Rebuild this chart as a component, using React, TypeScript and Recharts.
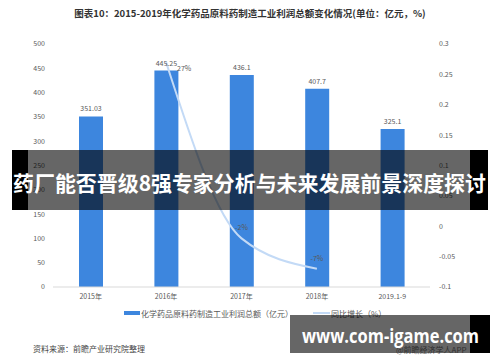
import React from 'react';
import { ComposedChart, Bar, Line, XAxis, YAxis, LabelList } from 'recharts';

// 年份 / 类别
const categories = ['2015年', '2016年', '2017年', '2018年', '2019.1-9'];
// 利润总额（亿元）
const profit = [351.03, 445.25, 436.1, 407.7, 325.1];
// 同比增长
const growth: (number | null)[] = [null, 0.27, -0.02, -0.07, null];
const growthLabels = ['', '27%', '-2%', '-7%', ''];

const leftTicks = [0, 50, 100, 150, 200, 250, 300, 350, 400, 450, 500];
const rightTicks = [-0.1, -0.05, 0, 0.05, 0.1, 0.15, 0.2, 0.25, 0.3];

const barName = '化学药品原料药制造工业利润总额（亿元）';
const lineName = '同比增长（%）';

const BAR_COLOR = '#3d86de';
const LINE_COLOR = '#c3daf6';
const FONT = "'Noto Sans CJK SC', 'Liberation Sans', sans-serif";

const data = categories.map((c, i) => ({
    name: c,
    profit: profit[i],
    growth: growth[i],
}));

const GrowthLabel = (props: any) => {
    const { x, y, index } = props;
    const text = growthLabels[index];
    if (!text) return null;
    // 第一个点的标签放右边，其余放上方
    if (index === 1) {
        return <text x={x + 11} y={y + 9} fontSize={7} fill="#595959" fontFamily={FONT}>{text}</text>;
    }
    return <text x={x} y={y - 8} fontSize={7} fill="#595959" textAnchor="middle" fontFamily={FONT}>{text}</text>;
};

const App: React.FC = () => {
    return (
        <div style={{ position: 'absolute', left: 0, top: 0, width: 500, height: 362, background: '#fff', fontFamily: FONT }}>
            <div style={{ position: 'absolute', top: 6, left: 0, width: 500, textAlign: 'center', fontSize: 9.5, fontWeight: 'bold', color: '#333' }}>
                图表10：2015-2019年化学药品原料药制造工业利润总额变化情况(单位：亿元，%)
            </div>
            <ComposedChart
                width={500}
                height={362}
                data={data}
                margin={{ top: 44, right: 0, bottom: 61, left: 0 }}
                barCategoryGap={51}
            >
                <XAxis
                    dataKey="name"
                    height={14}
                    tickSize={0}
                    tickMargin={7}
                    tick={{ fontSize: 7, fill: '#595959', fontFamily: FONT }}
                    axisLine={{ stroke: '#d9d9d9' }}
                />
                <YAxis
                    yAxisId="left"
                    width={53}
                    domain={[0, 500]}
                    ticks={leftTicks}
                    tickSize={0}
                    tickMargin={8}
                    axisLine={false}
                    tick={{ fontSize: 7, fill: '#595959', fontFamily: FONT }}
                />
                <YAxis
                    yAxisId="right"
                    orientation="right"
                    width={70}
                    domain={[-0.1, 0.3]}
                    ticks={rightTicks}
                    tickSize={0}
                    tickMargin={9}
                    axisLine={false}
                    tick={{ fontSize: 7, fill: '#595959', fontFamily: FONT }}
                />
                <Bar yAxisId="left" dataKey="profit" name={barName} fill={BAR_COLOR} barSize={24} isAnimationActive={false}>
                    <LabelList dataKey="profit" position="top" offset={5} style={{ fontSize: 7, fill: '#595959', fontFamily: FONT }} />
                </Bar>
                <Line
                    yAxisId="right"
                    dataKey="growth"
                    name={lineName}
                    type="monotone"
                    stroke={LINE_COLOR}
                    strokeWidth={2}
                    dot={false}
                    isAnimationActive={false}
                >
                    <LabelList dataKey="growth" content={GrowthLabel} />
                </Line>
            </ComposedChart>

            {/* 图例 */}
            <div style={{ position: 'absolute', top: 307, left: 124, height: 12, display: 'flex', alignItems: 'center', fontSize: 8, color: '#595959', whiteSpace: 'nowrap' }}>
                <span style={{ display: 'inline-block', width: 16, height: 4, background: BAR_COLOR }} />
                <span style={{ marginLeft: 1 }}>{barName}</span>
                <span style={{ display: 'inline-block', width: 17, height: 1.5, background: LINE_COLOR, marginLeft: 20 }} />
                <span style={{ marginLeft: 1 }}>{lineName}</span>
            </div>

            <div style={{ position: 'absolute', top: 343, left: 33, fontSize: 8, color: '#444', whiteSpace: 'nowrap' }}>
                资料来源：前瞻产业研究院整理
            </div>
            <div style={{ position: 'absolute', top: 344, left: 396, fontSize: 8, color: '#777', whiteSpace: 'nowrap' }}>
                @前瞻经济学人APP
            </div>

            {/* 覆盖层 */}
            <svg width={500} height={362} style={{ position: 'absolute', left: 0, top: 0 }}>
                <rect x={12} y={150} width={16} height={60} fill="#000" />
                <rect x={28} y={150} width={442} height={60} fill="rgba(0,0,0,0.6)" />
                <rect x={470} y={150} width={18} height={60} fill="#000" />
                <text
                    x={13}
                    y={191}
                    fontSize={21}
                    fontWeight="bold"
                    fill="#fff"
                    fontFamily="'Noto Sans CJK SC', sans-serif"
                    textLength={473}
                    lengthAdjust="spacingAndGlyphs"
                >
                    药厂能否晋级8强专家分析与未来发展前景深度探讨
                </text>

                <rect x={290} y={315} width={180} height={38} fill="rgba(0,0,0,0.6)" />
                <rect x={470} y={315} width={20} height={38} fill="#000" />
                <text
                    x={302}
                    y={343}
                    fontSize={19}
                    fontWeight="bold"
                    fill="#fff"
                    fontFamily="'Open Sans', sans-serif"
                    textLength={177}
                    lengthAdjust="spacingAndGlyphs"
                >
                    www.com-igame.com
                </text>
            </svg>
        </div>
    );
};

export default App;
